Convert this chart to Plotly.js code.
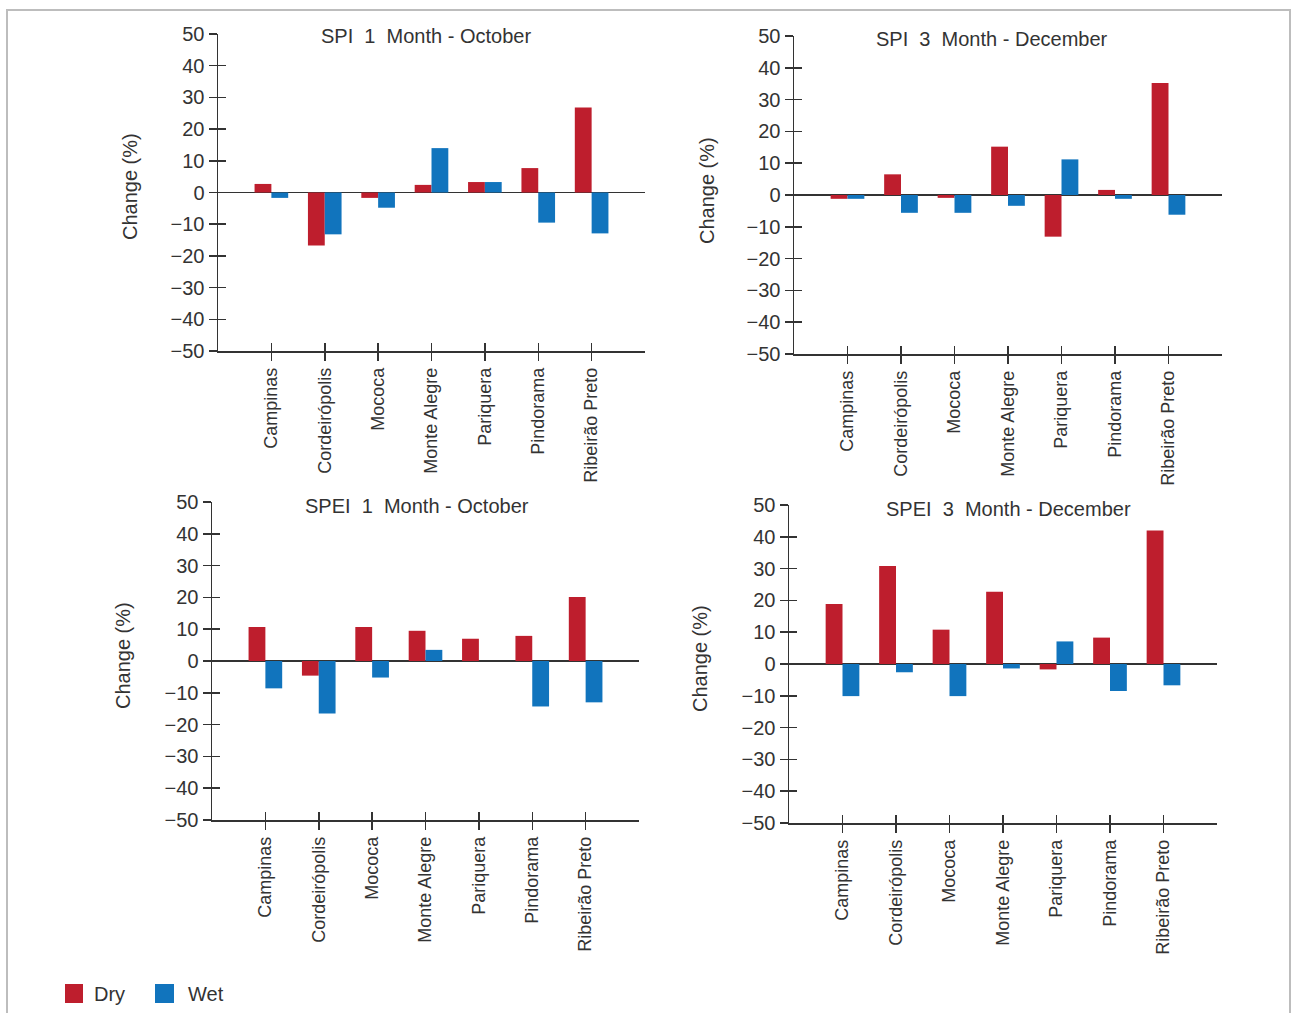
<!DOCTYPE html>
<html>
<head>
<meta charset="utf-8">
<script src="https://cdn.plot.ly/plotly-3.0.1.min.js"></script>
<style>html,body{margin:0;padding:0;background:#fff;}#chart{width:1292px;height:1013px;}</style>
</head>
<body>
<div id="chart"></div>
<script>
const stations = ["Campinas","Cordeirópolis","Mococa","Monte Alegre","Pariquera","Pindorama","Ribeirão Preto"];
const panelTitles = ["SPI&nbsp; 1&nbsp; Month - October","SPI&nbsp; 3&nbsp; Month - December","SPEI&nbsp; 1&nbsp; Month - October","SPEI&nbsp; 3&nbsp; Month - December"];
const seriesNames = ["Dry","Wet"];

const spi1OctDry  = [2.7, -16.7, -1.7, 2.4, 3.3, 7.7, 26.8];
const spi1OctWet  = [-1.7, -13.2, -4.8, 14.0, 3.3, -9.5, -12.9];
const spi3DecDry  = [-1.2, 6.5, -0.9, 15.2, -13.1, 1.6, 35.2];
const spi3DecWet  = [-1.2, -5.6, -5.6, -3.4, 11.2, -1.2, -6.2];
const spei1OctDry = [10.7, -4.6, 10.7, 9.5, 7.0, 7.9, 20.1];
const spei1OctWet = [-8.6, -16.5, -5.2, 3.5, 0, -14.3, -13.0];
const spei3DecDry = [18.9, 30.8, 10.8, 22.7, -1.7, 8.3, 42.0];
const spei3DecWet = [-10.1, -2.6, -10.1, -1.4, 7.1, -8.5, -6.7];

const yTickVals = [-50,-40,-30,-20,-10,0,10,20,30,40,50];

const RED = "#be1e2d", BLUE = "#1174bd", INK = "#333333";
const FONT = "Liberation Sans, Arial, sans-serif";
const W = 1292, H = 1013;
const px = v => v / W;
const py = v => (H - v) / H;

// panel pixel boxes: [left, right, top, bottom]
const boxes = [
  [218, 645, 34, 351],
  [794, 1222, 36, 354],
  [212, 639, 502, 820],
  [789, 1217, 505, 823]
];
const titlePos = [[426, 36], [992, 39], [417, 506], [1008, 509]];
const yTitlePos = [[130, 187], [707, 191], [123, 656], [700, 659]];
const dryData = [spi1OctDry, spi3DecDry, spei1OctDry, spei3DecDry];
const wetData = [spi1OctWet, spi3DecWet, spei1OctWet, spei3DecWet];

const traces = [];
const layout = {
  width: W, height: H,
  margin: {l:0, r:0, t:0, b:0},
  paper_bgcolor: "#fff", plot_bgcolor: "rgba(0,0,0,0)",
  showlegend: false,
  barmode: "group", bargap: 0.37, bargroupgap: 0,
  font: {family: FONT, color: INK},
  annotations: [], shapes: []
};

for (let i = 0; i < 4; i++) {
  const n = i + 1, m = i + 5;
  const xa = "x" + n, ya = "y" + n;
  traces.push({type:"bar", name: seriesNames[0], x: stations, y: dryData[i], marker:{color:RED}, xaxis: xa, yaxis: ya, hoverinfo:"x+y"});
  traces.push({type:"bar", name: seriesNames[1], x: stations, y: wetData[i], marker:{color:BLUE}, xaxis: xa, yaxis: ya, hoverinfo:"x+y"});
  // invisible anchor trace for inner-tick overlay axes
  traces.push({type:"scatter", mode:"markers", x:[0], y:[0], marker:{opacity:0}, xaxis:"x"+m, yaxis:"y"+m, hoverinfo:"skip"});

  const b = boxes[i];
  const xd = [px(b[0]), px(b[1])];
  const yd = [py(b[3]), py(b[2])];
  layout["xaxis" + n] = {
    domain: xd, anchor: ya, type: "category", range: [-1, 7],
    showline: true, linecolor: INK, linewidth: 1.5,
    ticks: "outside", ticklen: 8, tickwidth: 1.5, tickcolor: INK,
    tickangle: -90, tickfont: {size: 18, color: INK, family: FONT},
    showgrid: false, zeroline: false, fixedrange: true
  };
  layout["yaxis" + n] = {
    domain: yd, anchor: xa, range: [-50, 50], tickvals: yTickVals,
    showline: true, linecolor: INK, linewidth: 1.5,
    ticks: "outside", ticklen: 8, tickwidth: 1.5, tickcolor: INK,
    tickfont: {size: 20, color: INK, family: FONT},
    showgrid: false, zeroline: true, zerolinecolor: INK, zerolinewidth: 1.5, fixedrange: true
  };
  layout["xaxis" + m] = {
    overlaying: xa, anchor: "y" + m, type: "linear", range: [-1, 7], tickvals: [0,1,2,3,4,5,6],
    ticks: "inside", ticklen: 8, tickwidth: 1.5, tickcolor: INK, showticklabels: false,
    showline: false, showgrid: false, zeroline: false, fixedrange: true
  };
  layout["yaxis" + m] = {
    overlaying: ya, anchor: "x" + m, range: [-50, 50], tickvals: yTickVals,
    ticks: "inside", ticklen: 8, tickwidth: 1.5, tickcolor: INK, showticklabels: false,
    showline: false, showgrid: false, zeroline: false, fixedrange: true
  };

  layout.annotations.push({
    xref:"paper", yref:"paper", x: px(titlePos[i][0]), y: py(titlePos[i][1]),
    xanchor:"center", yanchor:"middle", showarrow:false,
    text: panelTitles[i], font:{size:20, color:INK, family:FONT}
  });
  layout.annotations.push({
    xref:"paper", yref:"paper", x: px(yTitlePos[i][0]), y: py(yTitlePos[i][1]),
    xanchor:"center", yanchor:"middle", showarrow:false, textangle:-90,
    text: "Change (%)", font:{size:20, color:INK, family:FONT}
  });
}

// custom legend
const legendItems = [[65, 83, 92, RED, seriesNames[0]], [155, 174, 186, BLUE, seriesNames[1]]];
legendItems.forEach(it => {
  layout.shapes.push({type:"rect", xref:"paper", yref:"paper", x0:px(it[0]), x1:px(it[1]), y0:py(1003), y1:py(984), fillcolor: it[3], line:{width:0}});
  layout.annotations.push({xref:"paper", yref:"paper", x:px(it[2]), y:py(994), xanchor:"left", yanchor:"middle", showarrow:false, text: it[4], font:{size:20, color:INK, family:FONT}});
});

// outer frame
layout.shapes.push({type:"rect", xref:"paper", yref:"paper", x0:px(7), x1:px(1290), y0:-0.05, y1:py(10), line:{color:"#bdbdbd", width:2}, fillcolor:"rgba(0,0,0,0)"});

Plotly.newPlot("chart", traces, layout, {displayModeBar:false, staticPlot:true});
</script>
</body>
</html>
